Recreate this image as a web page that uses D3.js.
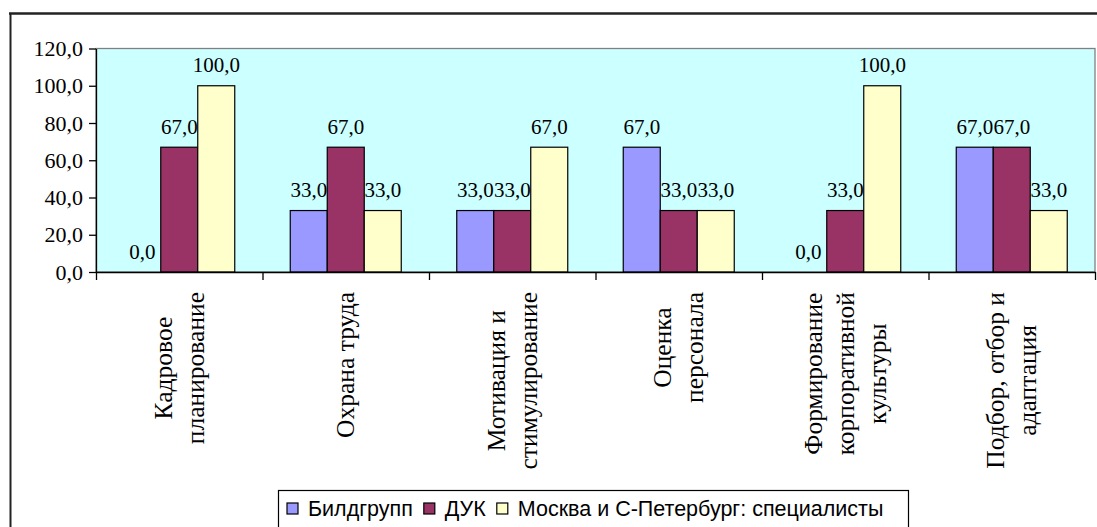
<!DOCTYPE html>
<html><head><meta charset="utf-8">
<script src="https://cdn.jsdelivr.net/npm/d3@7/dist/d3.min.js"></script>
<style>body{margin:0;background:#fff;overflow:hidden}
.serif{font-family:"Liberation Serif","Times New Roman",Times,serif}
.sans{font-family:"Liberation Sans",Arial,Helvetica,sans-serif}
</style></head>
<body>
<svg id="c" width="1097" height="527"></svg>
<script>
const categories = [["Кадровое","планирование"],["Охрана труда"],["Мотивация и","стимулирование"],["Оценка","персонала"],["Формирование","корпоративной","культуры"],["Подбор, отбор и","адаптация"]];
const seriesNames = ["Билдгрупп","ДУК","Москва и С-Петербург: специалисты"];
const buildgroup = [0,33,33,67,0,67];
const duk = [67,67,33,33,33,67];
const moscow = [100,33,67,33,100,33];
const yTicks = [0,20,40,60,80,100,120];
const colors = ["#9999FF","#993366","#FFFFCC"];

const series = [buildgroup, duk, moscow];
const svg = d3.select("#c");
const loc = d3.formatLocale({decimal:",",thousands:" ",grouping:[3],currency:["",""]});
const fmt = loc.format(".1f");

const L = 96, R = 1095, T = 48.5, B = 272;
const x = d3.scaleBand().domain(d3.range(categories.length)).range([L,R]).padding(0);
const xs = d3.scaleBand().domain(d3.range(series.length)).range([0,x.bandwidth()]).paddingInner(0).paddingOuter(0.75);
const y = d3.scaleLinear().domain([0,120]).range([B,T]);
const xb = d3.scaleLinear().domain([0,categories.length]).range([L,R]);

// outer frame
svg.append("line").attr("x1",9).attr("x2",1097).attr("y1",13.5).attr("y2",13.5).attr("stroke","#222").attr("stroke-width",2.3);
svg.append("line").attr("x1",10.5).attr("x2",10.5).attr("y1",13).attr("y2",527).attr("stroke","#222").attr("stroke-width",2);

// plot area
svg.append("rect").attr("x",L).attr("y",T).attr("width",R-L).attr("height",B-T)
  .attr("fill","#CCFFFF").attr("stroke","#808080").attr("stroke-width",1.3);

// bars
series.forEach((vals,si)=>{
  svg.append("g").selectAll("rect").data(vals).join("rect")
    .attr("x",(d,i)=>x(i)+xs(si))
    .attr("y",d=>y(d))
    .attr("width",xs.bandwidth())
    .attr("height",d=>y(0)-y(d))
    .attr("fill",colors[si]).attr("stroke","#000").attr("stroke-width",1.2);
});
// data labels
series.forEach((vals,si)=>{
  svg.append("g").selectAll("text").data(vals).join("text")
    .attr("class","serif")
    .attr("x",(d,i)=>x(i)+xs(si)+xs.bandwidth()/2)
    .attr("y",d=>y(d)-13.5)
    .attr("text-anchor","middle")
    .style("font-size","21px").attr("fill","#000")
    .text(d=>fmt(d));
});

// y axis
const ya = svg.append("g").attr("transform",`translate(${L},0)`)
  .call(d3.axisLeft(y).tickValues(yTicks).tickFormat(fmt).tickSize(7).tickSizeOuter(0).tickPadding(6));
ya.attr("font-family",null).attr("font-size",null);
ya.selectAll("path,line").attr("stroke","#000").attr("stroke-width",1.3);
ya.selectAll("text").attr("class","serif").style("font-size","22px").attr("fill","#000");

// x axis
const xa = svg.append("g").attr("transform",`translate(0,${B})`)
  .call(d3.axisBottom(xb).tickValues(d3.range(categories.length+1)).tickFormat("").tickSize(8).tickSizeOuter(0));
xa.selectAll("path,line").attr("stroke","#000").attr("stroke-width",1.3);

// category labels
const lineH = 32, fs = 25.5;
categories.forEach((lines,i)=>{
  const g = svg.append("g").attr("transform",`translate(${x(i)+x.bandwidth()/2},292) rotate(-90)`);
  const ts = lines.map((t,k)=>g.append("text").attr("class","serif").style("font-size",fs+"px")
      .attr("fill","#000").attr("text-anchor","middle")
      .attr("y",(k-(lines.length-1)/2)*lineH + fs*0.33).text(t));
  const maxLen = d3.max(ts,t=>t.node().getComputedTextLength());
  ts.forEach(t=>t.attr("x",-maxLen/2));
});

// legend
svg.append("rect").attr("x",278.5).attr("y",490.5).attr("width",630).attr("height",60)
  .attr("fill","#fff").attr("stroke","#000").attr("stroke-width",1.2);
let lx = 287;
seriesNames.forEach((n,si)=>{
  svg.append("rect").attr("x",lx).attr("y",503).attr("width",11).attr("height",11)
    .attr("fill",colors[si]).attr("stroke","#000").attr("stroke-width",1.2);
  const t = svg.append("text").attr("class","sans").attr("x",lx+21).attr("y",516).style("font-size","21.5px").attr("fill","#000").text(n);
  lx += 21 + t.node().getComputedTextLength() + 11;
});
</script>
</body></html>
